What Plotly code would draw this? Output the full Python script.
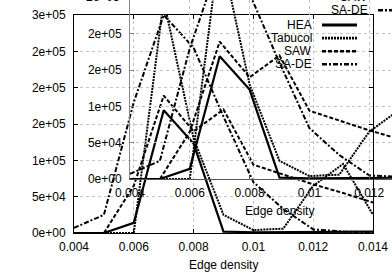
import plotly.graph_objects as go

# ---------------- data ----------------
edge_density = [0.004, 0.005, 0.006, 0.007, 0.008, 0.009, 0.010, 0.011, 0.012, 0.013, 0.014]
hea     = [0, 0, 1.4e4, 1.69e5, 1.23e5, 2e3, 1e3, 1e3, 1e3, 2e3, 2e3]
tabucol = [0, 0, 0, 3.2e5, 1.3e5, 2.5e4, 4e3, 6e3, 6.5e4, 9.5e4, 2.5e4]
saw     = [0, 0, 6.5e4, 1.89e5, 1.4e5, 1.7e5, 9.4e4, 8e4, 6.7e4, 5.5e4, 4.2e4]
sa_de   = [7e3, 2.5e4, 1.8e5, 3.0e5, 2.55e5, 1.6e5, 7e4, 3.3e4, 5e3, 2e3, 1e3]

series_names = ["HEA", "Tabucol", "SAW", "SA-DE"]
series_vals = [hea, tabucol, saw, sa_de]

x_tickvals = [0.004, 0.006, 0.008, 0.010, 0.012, 0.014]
x_ticktext = ["0.004", "0.006", "0.008", "0.01", "0.012", "0.014"]
y_tickvals = [0, 5e4, 1e5, 1.5e5, 2e5, 2.5e5, 3e5]
y_ticktext = ["0e+00", "5e+04", "1e+05", "2e+05", "2e+05", "2e+05", "3e+05"]
x_title = "Edge density"

# ---------------- layout geometry (pixels) ----------------
W, H = 392, 275
L, R, T, B = 74, 373, 15, 233          # outer plot box
DX, DY = 56, -54                        # offset of the duplicated chart
XMIN, XMAX, YMIN, YMAX = 0.004, 0.014, 0.0, 3e5

px_per_x = (R - L) / (XMAX - XMIN)
px_per_y = (B - T) / (YMAX - YMIN)

def fx(px):
    return px / W

def fy(py):
    return 1 - py / H

# inner (shifted) chart, clipped to the page
iL, iB = L + DX, B + DY
inner_xmax = XMIN + (W - iL) / px_per_x
inner_ymax = YMIN + (iB - 0) / px_per_y

styles = [
    dict(color="black", width=2.2),
    dict(color="black", width=2.0, dash="2px,1px"),
    dict(color="black", width=2.0, dash="4px,2px"),
    dict(color="black", width=2.0, dash="5px,2px,2px,2px"),
]

fig = go.Figure()
for ax_x, ax_y in (("x", "y"), ("x2", "y2")):
    for name, vals, st in zip(series_names, series_vals, styles):
        fig.add_trace(go.Scatter(x=edge_density, y=vals, mode="lines", name=name,
                                 line=st, xaxis=ax_x, yaxis=ax_y, showlegend=False,
                                 hoverinfo="skip"))

font = dict(family="Liberation Sans, Arial, sans-serif", size=12, color="black")
common = dict(showgrid=True, gridcolor="#c4c4c4", griddash="dot", gridwidth=1,
              zeroline=False, automargin=False)

fig.update_layout(
    template="none",
    width=W, height=H, autosize=False,
    margin=dict(l=0, r=0, t=0, b=0, pad=0, autoexpand=False),
    paper_bgcolor="white", plot_bgcolor="rgba(0,0,0,0)",
    font=font, showlegend=False, hovermode=False,
    xaxis=dict(domain=[fx(L), fx(R)], range=[XMIN, XMAX], anchor="y",
               tickvals=x_tickvals, ticktext=x_ticktext,
               showline=True, linecolor="black", linewidth=1, mirror="ticks",
               ticks="inside", ticklen=4, tickcolor="black", ticklabelstandoff=3, **common),
    yaxis=dict(domain=[fy(B), fy(T)], range=[YMIN, YMAX], anchor="x",
               tickvals=y_tickvals, ticktext=y_ticktext,
               showline=True, linecolor="black", linewidth=1, mirror="ticks",
               ticks="inside", ticklen=4, tickcolor="black", ticklabelstandoff=5, **common),
    xaxis2=dict(domain=[fx(iL), 1], range=[XMIN, inner_xmax], anchor="y2",
                tickvals=x_tickvals, ticktext=x_ticktext,
                showline=True, linecolor="#555555", linewidth=1,
                ticks="inside", ticklen=4, tickcolor="#555555", ticklabelstandoff=3, **common),
    yaxis2=dict(domain=[fy(iB), 1], range=[YMIN, inner_ymax], anchor="x2",
                tickvals=y_tickvals, ticktext=y_ticktext,
                showline=True, linecolor="#888888", linewidth=1,
                ticks="inside", ticklen=4, tickcolor="#888888", ticklabelstandoff=5, **common),
)

annotations = []
shapes = []
# axis titles
for dx, dy in ((0, 0), (DX, DY)):
    annotations.append(dict(text=x_title, x=fx((L + R) / 2 + dx), y=fy(265 + dy),
                            xref="paper", yref="paper", showarrow=False,
                            xanchor="center", yanchor="middle", font=font))

# partially visible tick label of the shifted chart (above its clipped area)
for v, t in zip(y_tickvals, y_ticktext):
    py = iB - (v - YMIN) * px_per_y
    if py < 0:
        annotations.append(dict(text=t, x=fx(iL - 8), y=fy(py), xref="paper", yref="paper",
                                showarrow=False, xanchor="right", yanchor="middle", font=font))

# legends (text right, sample line to the right) for both copies
legend_y0, legend_dy = 25, 13.1
for dx, dy in ((0, 0), (DX, DY)):
    for i, (name, st) in enumerate(zip(series_names, styles)):
        yy = legend_y0 + i * legend_dy + dy
        annotations.append(dict(text=name, x=fx(314 + dx), y=fy(yy), xref="paper", yref="paper",
                                showarrow=False, xanchor="right", yanchor="middle", font=font))
        shapes.append(dict(type="line", xref="paper", yref="paper",
                           x0=fx(322 + dx), x1=fx(357 + dx), y0=fy(yy), y1=fy(yy),
                           line=dict(color="black", width=st["width"] + 0.6,
                                     dash=st.get("dash", "solid"))))

fig.update_layout(annotations=annotations, shapes=shapes)
fig.write_html("out.html", config={"displayModeBar": False, "staticPlot": True},
               post_script="document.body.style.margin='0';document.body.style.overflow='hidden';")
